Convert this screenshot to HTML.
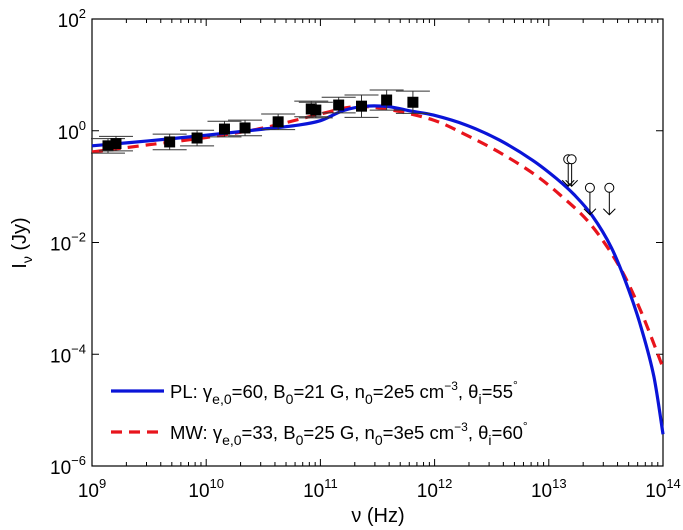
<!DOCTYPE html>
<html><head><meta charset="utf-8"><style>
body{margin:0;background:#fff}
svg{display:block;font-family:"Liberation Sans",sans-serif}
</style></head><body>
<svg id="c" width="683" height="530"></svg>
<script>
const xDecades=[9,10,11,12,13,14];
const yDecades=[-6,-4,-2,0,2];
const dataLogNu=[9.14,9.21,9.68,9.92,10.16,10.34,10.63,10.92,10.96,11.16,11.36,11.58,11.81];
const dataLogI=[-0.27,-0.23,-0.20,-0.13,0.03,0.05,0.16,0.39,0.37,0.46,0.44,0.55,0.51];
const dataErr=[0.13,0.13,0.14,0.14,0.14,0.14,0.14,0.14,0.14,0.14,0.2,0.18,0.2];
const limLogNu=[13.17,13.20,13.36,13.53];
const limLogI=[-0.51,-0.51,-1.02,-1.02];
const plNu=[9,9.5,10,10.5,10.8,11,11.2,11.4,11.6,11.8,11.99,12.28,12.57,12.86,13.07,13.22,13.38,13.55,13.7,13.82,13.92,14];
const plI=[-0.27,-0.18,-0.08,0.03,0.1,0.18,0.36,0.44,0.43,0.35,0.28,0.10,-0.17,-0.53,-0.86,-1.14,-1.52,-2.1,-2.85,-3.6,-4.4,-5.43];
const mwNu=[9,9.5,10,10.5,11,11.3,11.6,11.99,12.28,12.57,12.86,13.1,13.36,13.61,13.8,14];
const mwI=[-0.38,-0.25,-0.12,0.05,0.3,0.43,0.38,0.19,-0.08,-0.39,-0.76,-1.15,-1.66,-2.4,-3.2,-4.24];
const L=92,R=663,T=19,B=466;
const X=v=>L+(v-9)/5*(R-L);
const Y=v=>T+(2-v)/8*(B-T);
const s=document.getElementById('c');
const NS='http://www.w3.org/2000/svg';
function el(t,a,p){const e=document.createElementNS(NS,t);for(const k in a)e.setAttribute(k,a[k]);(p||s).appendChild(e);return e;}
let box=el('rect',{x:L,y:T,width:R-L,height:B-T,fill:'none',stroke:'#000','stroke-width':1.2});


for(let d=9;d<14;d++){for(let m=1;m<10;m++){const x=X(d+Math.log10(m));const len=m==1?7:4;
el('line',{x1:x,x2:x,y1:B,y2:B-len,stroke:'#000'});el('line',{x1:x,x2:x,y1:T,y2:T+len,stroke:'#000'});}}
xDecades.forEach(d=>{const t=el('text',{x:X(d),y:497,'font-size':19,'text-anchor':'middle'});


t.innerHTML='10<tspan dy="-9" font-size="13">'+d+'</tspan>';});
yDecades.forEach(d=>{const y=Y(d);el('line',{x1:L,x2:L+7,y1:y,y2:y,stroke:'#000'});el('line',{x1:R,x2:R-7,y1:y,y2:y,stroke:'#000'});
const t=el('text',{x:86,y:y+8,'font-size':19,'text-anchor':'end'});


t.innerHTML='10<tspan dy="-9" font-size="13">'+(d<0?'\u2212'+(-d):d)+'</tspan>';});
function path(nu,I){const p=nu.map((v,i)=>[X(v),Y(I[i])]);let d='M'+p[0][0].toFixed(1)+','+p[0][1].toFixed(1);
for(let i=0;i<p.length-1;i++){const p0=p[i-1]||p[i],p1=p[i],p2=p[i+1],p3=p[i+2]||p2;
const c1=[p1[0]+(p2[0]-p0[0])/6,p1[1]+(p2[1]-p0[1])/6],c2=[p2[0]-(p3[0]-p1[0])/6,p2[1]-(p3[1]-p1[1])/6];
d+='C'+c1.map(n=>n.toFixed(1))+' '+c2.map(n=>n.toFixed(1))+' '+p2.map(n=>n.toFixed(1));}return d;}
let mw=el('path',{d:path(mwNu,mwI),fill:'none',stroke:'#e8141c','stroke-width':3.2,'stroke-dasharray':'11,7'});


let pl=el('path',{d:path(plNu,plI),fill:'none',stroke:'#0a14d8','stroke-width':3.2});


dataLogNu.forEach((v,i)=>{const g=el('g',{});


const x=X(v),y1=Y(dataLogI[i]+dataErr[i]),y2=Y(dataLogI[i]-dataErr[i]);
el('line',{x1:x,x2:x,y1:y1,y2:y2,stroke:'#333'},g);
el('line',{x1:x-17,x2:x+17,y1:y1,y2:y1,stroke:'#333'},g);
el('line',{x1:x-17,x2:x+17,y1:y2,y2:y2,stroke:'#333'},g);
el('rect',{x:x-5.5,y:Y(dataLogI[i])-5.5,width:11,height:11,fill:'#000'},g);});
limLogNu.forEach((v,i)=>{const g=el('g',{});


const x=X(v),y=Y(limLogI[i]);
el('circle',{cx:x,cy:y,r:4.5,fill:'#fff',stroke:'#000'},g);
el('line',{x1:x,x2:x,y1:y+4.5,y2:y+27,stroke:'#000'},g);
el('path',{d:`M${x-6},${y+21}L${x},${y+27}L${x+6},${y+21}`,fill:'none',stroke:'#000'},g);});
let lg=el('g',{});


el('line',{x1:111,x2:164,y1:391,y2:391,stroke:'#0a14d8','stroke-width':3.2},lg);
el('line',{x1:111,x2:164,y1:432,y2:432,stroke:'#e8141c','stroke-width':3.2,'stroke-dasharray':'11,7'},lg);
let t1=el('text',{x:170,y:398,'font-size':18.5},lg);


t1.innerHTML='PL: γ<tspan dy="6" font-size="14">e,0</tspan><tspan dy="-6">=60, B</tspan><tspan dy="6" font-size="14">0</tspan><tspan dy="-6">=21 G, n</tspan><tspan dy="6" font-size="14">0</tspan><tspan dy="-6">=2e5 cm</tspan><tspan dy="-8" font-size="12">−3</tspan><tspan dy="8">, θ</tspan><tspan dy="6" font-size="14">i</tspan><tspan dy="-6">=55</tspan><tspan dy="-9" font-size="12">°</tspan>';
let t2=el('text',{x:170,y:439,'font-size':18.5},lg);


t2.innerHTML='MW: γ<tspan dy="6" font-size="14">e,0</tspan><tspan dy="-6">=33, B</tspan><tspan dy="6" font-size="14">0</tspan><tspan dy="-6">=25 G, n</tspan><tspan dy="6" font-size="14">0</tspan><tspan dy="-6">=3e5 cm</tspan><tspan dy="-8" font-size="12">−3</tspan><tspan dy="8">, θ</tspan><tspan dy="6" font-size="14">i</tspan><tspan dy="-6">=60</tspan><tspan dy="-9" font-size="12">°</tspan>';
let xt=el('text',{x:378,y:522,'font-size':20,'text-anchor':'middle'});


xt.textContent='ν (Hz)';
let yt=el('text',{x:0,y:0,'font-size':20,'text-anchor':'middle',transform:'translate(26,243) rotate(-90)'});


yt.innerHTML='I<tspan dy="6" font-size="14">ν</tspan><tspan dy="-6"> (Jy)</tspan>';
</script>
</body></html>
